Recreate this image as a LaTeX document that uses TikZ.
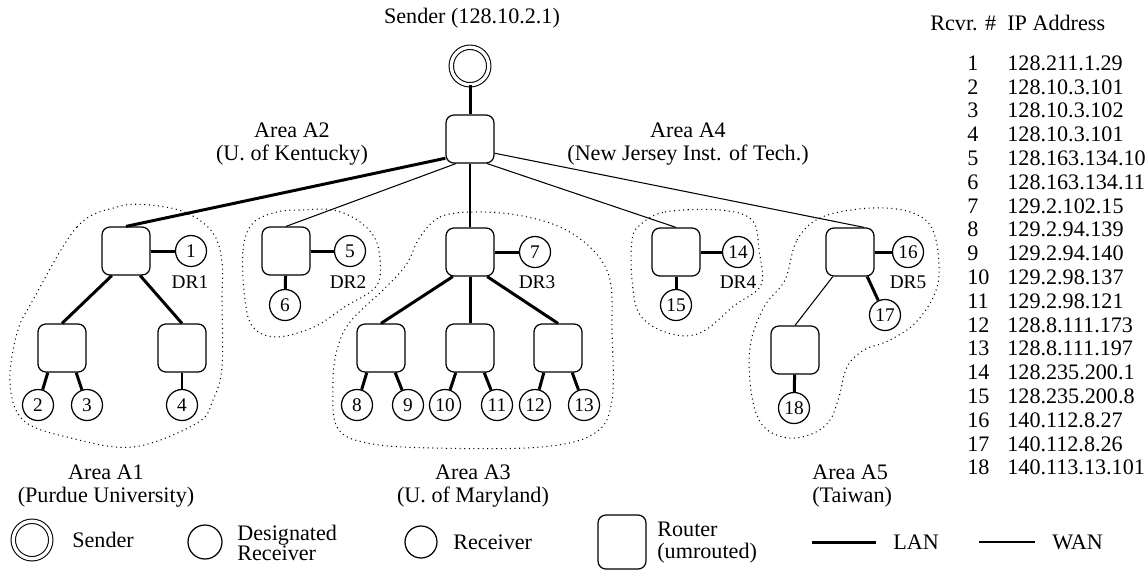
\documentclass[tikz,border=0pt]{standalone}
\usepackage{fontspec}
\setmainfont{Liberation Serif}
\usetikzlibrary{calc}

\begin{document}
\begin{tikzpicture}[x=0.02cm, y=-0.02cm,
	router/.style = {draw, line width=0.7pt,
		rounded corners=4.5pt,
		minimum width=0.96cm,
		minimum height=0.96cm},
	rcv/.style = {circle, draw, line width=0.7pt,
		minimum size=0.62cm, inner sep=0pt,
		font=\fontsize{11}{12}\selectfont},
	snd/.style = {circle, draw, line width=0.6pt,
		double, double distance=1.9pt,
		minimum size=0.75cm, inner sep=0pt},
	lan/.style = {line width=1.7pt},
	wan/.style = {line width=0.6pt},
	area/.style = {line width=0.6pt, dash pattern=on 0.6pt off 2pt},
	lbl/.style = {font=\fontsize{12.6}{13}\selectfont, align=center, inner sep=0pt},
	drlbl/.style = {font=\fontsize{11}{12}\selectfont, inner sep=0pt}]
	
	\useasboundingbox (0,0) rectangle (1148,583);
	
	% Sender and top router
	\node[lbl] (sndlbl) at (472,18) {Sender (128.10.2.1)};
	\node[snd] (S) at (470,66) {};
	\node[router] (R0) at (470,139) {};
	
	% Area A1
	\node[router] (R1) at (126,251) {};
	\node[rcv] (c1) at (191,251) {1};
	\node[drlbl] (dr1) at (190,282) {DR1};
	\node[router] (R11) at (62,348) {};
	\node[router] (R12) at (182,348) {};
	\node[rcv] (c2) at (38,405) {2};
	\node[rcv] (c3) at (87,405) {3};
	\node[rcv] (c4) at (182,405) {4};
	
	% Area A2
	\node[router] (R2) at (286,251) {};
	\node[rcv] (c5) at (350,251) {5};
	\node[drlbl] (dr2) at (348,282) {DR2};
	\node[rcv] (c6) at (285,305) {6};
	
	% Area A3
	\node[router] (R3) at (470,252) {};
	\node[rcv] (c7) at (535,252) {7};
	\node[drlbl] (dr3) at (537,282) {DR3};
	\node[router] (R31) at (381,348) {};
	\node[router] (R32) at (470,348) {};
	\node[router] (R33) at (558,348) {};
	\node[rcv] (c8) at (357,405) {8};
	\node[rcv] (c9) at (408,405) {9};
	\node[rcv] (c10) at (445,405) {10};
	\node[rcv] (c11) at (497,405) {11};
	\node[rcv] (c12) at (535,405) {12};
	\node[rcv] (c13) at (584,405) {13};
	
	% Area A4
	\node[router] (R4) at (676,252) {};
	\node[rcv] (c14) at (738,252) {14};
	\node[drlbl] (dr4) at (738,282) {DR4};
	\node[rcv] (c15) at (676,305) {15};
	
	% Area A5
	\node[router] (R5) at (850,252) {};
	\node[rcv] (c16) at (908,252) {16};
	\node[drlbl] (dr5) at (908,282) {DR5};
	\node[rcv] (c17) at (885,315) {17};
	\node[router] (R51) at (795,350) {};
	\node[rcv] (c18) at (794,408) {18};
	
	% WAN links from the top router
	\draw[lan] (S) -- (R0);
	\draw[lan] (R0.218) -- (R1.north);
	\draw[wan] (R0.240) -- (R2.north);
	\draw[wan] (R0.south) -- (R3.north);
	\draw[wan] (R0.305) -- (R4.north);
	\draw[wan] (R0.330) -- (R5.60);
	
	% LAN links
	\draw[lan] (R1) -- (c1);
	\draw[lan] (R1.240) -- (R11.north);
	\draw[lan] (R1.300) -- (R12.north);
	\draw[lan] (R11.240) -- (c2);
	\draw[lan] (R11.300) -- (c3);
	\draw[lan] (R12) -- (c4);
	
	\draw[lan] (R2) -- (c5);
	\draw[lan] (R2) -- (c6);
	
	\draw[lan] (R3) -- (c7);
	\draw[lan] (R3.235) -- (R31.north);
	\draw[lan] (R3) -- (R32);
	\draw[lan] (R3.305) -- (R33.north);
	\draw[lan] (R31.240) -- (c8);
	\draw[lan] (R31.300) -- (c9);
	\draw[lan] (R32.240) -- (c10);
	\draw[lan] (R32.300) -- (c11);
	\draw[lan] (R33.240) -- (c12);
	\draw[lan] (R33.300) -- (c13);
	
	\draw[lan] (R4) -- (c14);
	\draw[lan] (R4) -- (c15);
	
	\draw[lan] (R5) -- (c16);
	\draw[lan] (R5.305) -- (c17);
	\draw[wan] (R5.235) -- (R51.north);
	\draw[lan] (R51) -- (c18);
	
	% Area outlines
	\draw[area] plot[smooth cycle, tension=0.6] coordinates {(33,300) (77,227) (117,207) (150,205) (187,213) (213,233) (222,262) (222,300) (222,367) (213,400) (197,423) (133,447) (67,437) (23,420) (10,383) (17,333)};
	\draw[area] plot[smooth cycle, tension=0.6] coordinates {(245,300) (243,250) (253,223) (277,212) (300,210) (333,210) (360,222) (377,243) (380,277) (370,292) (346,306) (314,327) (276,337) (253,327)};
	\draw[area] plot[smooth cycle, tension=0.6] coordinates {(420,237) (440,217) (473,212) (517,215) (560,227) (593,250) (610,280) (612,330) (612,400) (595,433) (541,447) (433,448) (367,443) (337,427) (333,383) (337,350) (350,322) (383,290) (406,265)};
	\draw[area] plot[smooth cycle, tension=0.6] coordinates {(640,225) (665,212) (720,210) (752,220) (759,250) (761,285) (735,305) (700,333) (668,333) (640,315) (632,280) (632,240)};
	\draw[area] plot[smooth cycle, tension=0.6] coordinates {(785,280) (797,240) (822,217) (872,208) (913,213) (934,233) (938,283) (918,320) (890,340) (864,350) (847,367) (839,397) (830,420) (814,433) (789,438) (764,427) (752,397) (750,347) (764,307)};
	
	% Area labels
	\node[lbl] (a1) at (106,486) {Area A1\\(Purdue University)};
	\node[lbl] (a2) at (292,144) {Area A2\\(U. of Kentucky)};
	\node[lbl] (a3) at (473,486) {Area A3\\(U. of Maryland)};
	\node[lbl] (a4) at (688,144) {Area A4\\(New Jersey Inst. of Tech.)};
	\node[lbl, anchor=west, align=left] (a5) at (812,486) {Area A5\\(Taiwan)};
	
	% Receiver table
	\node[lbl, anchor=west] (hnum) at (930,23) {Rcvr. \#};
	\node[lbl, anchor=west] (hip) at (1007,23) {IP Address};
	\foreach \n/\ip [count=\i from 0] in {1/128.211.1.29, 2/128.10.3.101, 3/128.10.3.102, 4/128.10.3.101, 5/128.163.134.10, 6/128.163.134.11, 7/129.2.102.15, 8/129.2.94.139, 9/129.2.94.140, 10/129.2.98.137, 11/129.2.98.121, 12/128.8.111.173, 13/128.8.111.197, 14/128.235.200.1, 15/128.235.200.8, 16/140.112.8.27, 17/140.112.8.26, 18/140.113.13.101}{
		\node[lbl, anchor=west] (num\n) at (967,{63+23.8*\i}) {\n};
		\node[lbl, anchor=west] (ip\n) at (1007,{63+23.8*\i}) {\ip};
	}
	
	% Legend
	\node[snd] (lsnd) at (32,540) {};
	\node[lbl, anchor=west] (lsndt) at (72,540) {Sender};
	\node[rcv, minimum size=0.68cm] (ldr) at (205,542) {};
	\node[lbl, anchor=west, align=left, font=\fontsize{12.6}{11.5}\selectfont] (ldrt) at (237,543) {Designated\\Receiver};
	\node[rcv, minimum size=0.64cm] (lrcv) at (421,542) {};
	\node[lbl, anchor=west] (lrcvt) at (453,542) {Receiver};
	\node[router, minimum height=1.08cm] (lrt) at (622,542) {};
	\node[lbl, anchor=west, align=left, font=\fontsize{12.6}{12.5}\selectfont] (lrtt) at (657,543) {Router\\(umrouted)};
	\coordinate (lanA) at (812,542);
	\coordinate (lanB) at (876,542);
	\draw[lan] (lanA) -- (lanB);
	\node[lbl, anchor=west] (lant) at (893,542) {LAN};
	\coordinate (wanA) at (979,542);
	\coordinate (wanB) at (1035,542);
	\draw[wan] (wanA) -- (wanB);
	\node[lbl, anchor=west] (want) at (1052,542) {WAN};
	
\end{tikzpicture}
\end{document}
